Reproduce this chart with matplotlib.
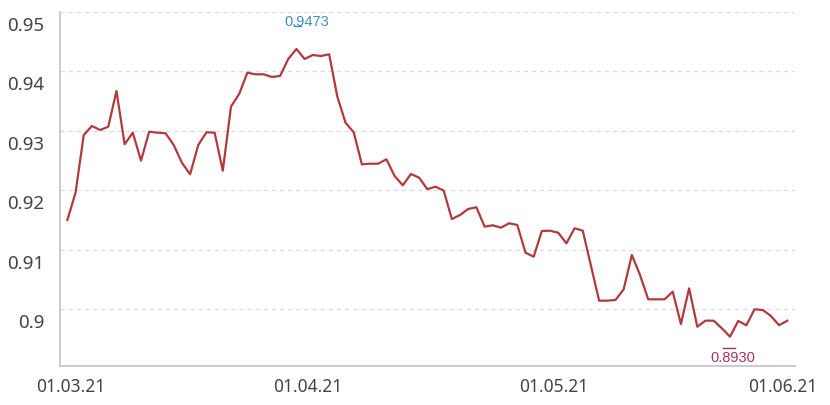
import matplotlib
matplotlib.use('Agg')
import matplotlib.pyplot as plt
import matplotlib.transforms as mtransforms
import numpy as np

# values, one per trading day (01.03.21 .. 01.06.21)
values = [
    0.91498, 0.91958, 0.92929, 0.93081, 0.93013, 0.93069, 0.93670, 0.92773,
    0.92968, 0.92497, 0.92985, 0.92968, 0.92958, 0.92761, 0.92463, 0.92268,
    0.92761, 0.92975, 0.92968, 0.92328, 0.93406, 0.93620, 0.93978, 0.93951,
    0.93951, 0.93906, 0.93923, 0.94209, 0.94377, 0.94209, 0.94276, 0.94259,
    0.94288, 0.93574, 0.93136, 0.92975, 0.92436, 0.92446, 0.92446, 0.92520,
    0.92239, 0.92082, 0.92273, 0.92210, 0.92017, 0.92059, 0.91992, 0.91515,
    0.91582, 0.91684, 0.91712, 0.91386, 0.91409, 0.91369, 0.91443, 0.91414,
    0.90948, 0.90880, 0.91313, 0.91318, 0.91284, 0.91106, 0.91359, 0.91318,
    0.90729, 0.90140, 0.90140, 0.90152, 0.90332, 0.90909, 0.90572, 0.90163,
    0.90163, 0.90163, 0.90291, 0.89747, 0.90348, 0.89702, 0.89803, 0.89803,
    0.89675, 0.89534, 0.89798, 0.89726, 0.89995, 0.89983, 0.89882, 0.89726,
    0.89803,
]
x_labels = ['01.03.21', '01.04.21', '01.05.21', '01.06.21']
x_label_pos = [0.45, 29.4, 59.5, 87.4]
y_ticks = [0.90, 0.91, 0.92, 0.93, 0.94, 0.95]
y_labels = ['0.9', '0.91', '0.92', '0.93', '0.94', '0.95']
max_label = '0.9473'
min_label = '0.8930'

x = np.arange(len(values))

fig = plt.figure(figsize=(8.3, 4.05), dpi=100)
ax = fig.add_axes([0.0723, 0.097, 0.8855, 0.8734])

ax.plot(x, values, color='#b03a3c', lw=1.6, zorder=3)

ax.set_xlim(-0.9, len(values) - 1 + 0.94)
ax.set_ylim(0.89045, 0.95)

ax.set_yticks(y_ticks)
ax.set_yticklabels(y_labels, fontsize=13.5, color='#444444', family='Noto Sans')
ax.set_xticks(x_label_pos)
ax.set_xticklabels(x_labels, fontsize=12.5, color='#444444', family='Noto Sans')
ax.tick_params(axis='y', length=0, pad=11.5)
ax.tick_params(axis='x', length=0, pad=9)

# labels sit a bit below their grid lines in the original
offset = mtransforms.ScaledTranslation(0, -0.12, fig.dpi_scale_trans)
for lab in ax.get_yticklabels():
    lab.set_transform(lab.get_transform() + offset)

ax.yaxis.grid(True, color='#dcdcdc', lw=0.9, dashes=(3.5, 3))
ax.set_axisbelow(True)
for s in ['top', 'right']:
    ax.spines[s].set_visible(False)
for s in ['left', 'bottom']:
    ax.spines[s].set_color('#c4c4c4')
    ax.spines[s].set_linewidth(1.2)

# max / min markers
imax = int(np.argmax(values))
imin = int(np.argmin(values))
ax.annotate(max_label, (imax, values[imax]), xytext=(7.5, 19.5),
            textcoords='offset points', ha='center', va='center',
            fontsize=10.5, color='#3a92c2', family='Liberation Sans')
ax.plot([imax - 0.3, imax + 0.6], [values[imax], values[imax]], color='#3a92c2',
        lw=1, transform=ax.transData + mtransforms.ScaledTranslation(0, 0.23, fig.dpi_scale_trans),
        clip_on=False)
ax.annotate(min_label, (imin, values[imin]), xytext=(2, -15),
            textcoords='offset points', ha='center', va='center',
            fontsize=10.5, color='#a3345e', family='Liberation Sans')
ax.plot([imin - 0.85, imin + 0.6], [values[imin], values[imin]], color='#a3345e',
        lw=1, transform=ax.transData + mtransforms.ScaledTranslation(0, -0.11, fig.dpi_scale_trans),
        clip_on=False)

fig.savefig('out.png', dpi=100)
